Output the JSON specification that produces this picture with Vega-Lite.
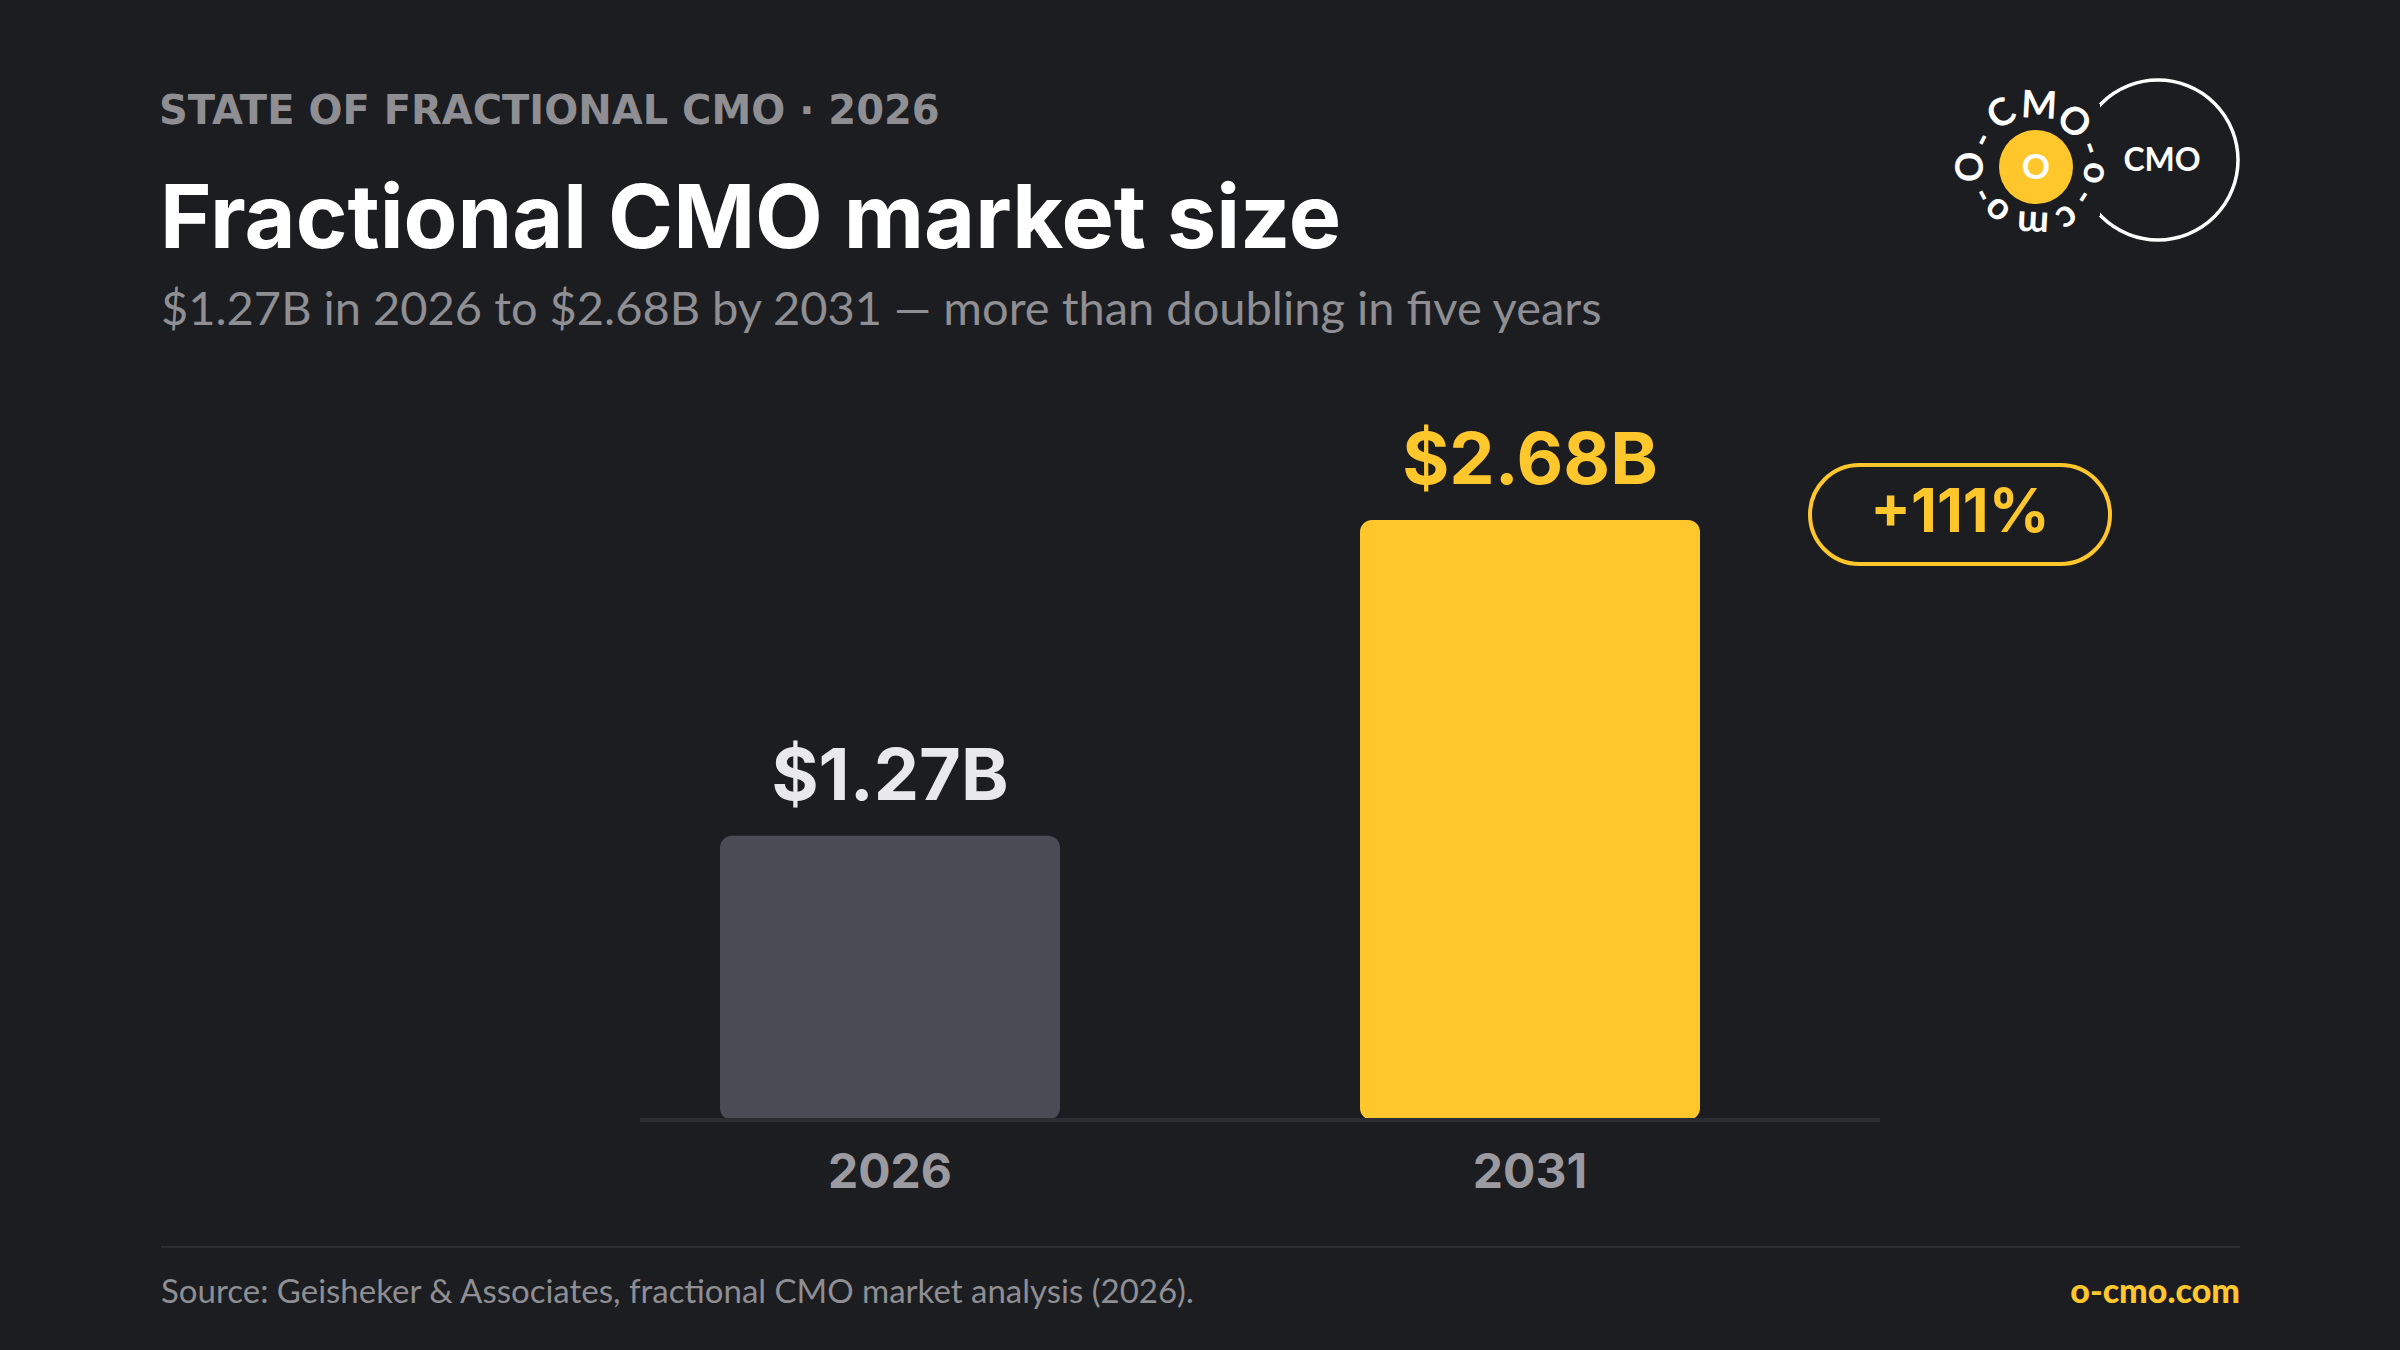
{
  "$schema": "https://vega.github.io/schema/vega-lite/v6.json",
  "width": 2400,
  "height": 1350,
  "autosize": {"type": "none"},
  "padding": 0,
  "background": "#1c1d21",
  "config": {"view": {"stroke": null}, "font": "Lato"},
  "data": {"values": [
    {"year": "2026", "value": 1.27, "label": "$1.27B"},
    {"year": "2031", "value": 2.68, "label": "$2.68B"}
  ]},
  "layer": [
    {
      "mark": {"type": "bar", "cornerRadius": 12},
      "encoding": {
        "x": {
          "field": "year", "type": "nominal", "axis": null,
          "scale": {"domain": ["2026", "2031"], "range": [640, 1880], "paddingInner": 0.46875, "paddingOuter": 0.203125, "align": 0.3077}
        },
        "y": {
          "field": "value", "type": "quantitative", "axis": null,
          "scale": {"domain": [-1.0273, 5.0028], "nice": false, "zero": false}
        },
        "y2": {"datum": 0},
        "color": {
          "field": "year", "type": "nominal", "legend": null,
          "scale": {"domain": ["2026", "2031"], "range": ["#4b4b55", "#ffc72c"]}
        }
      }
    },
    {
      "mark": {"type": "rule", "color": "#2c2d33", "strokeWidth": 4},
      "encoding": {
        "x": {"value": 640},
        "x2": {"value": 1880},
        "y": {"datum": 0, "type": "quantitative"}
      }
    },
    {
      "mark": {"type": "text", "font": "Inter", "fontSize": 72, "fontWeight": "bold", "baseline": "alphabetic", "align": "center", "dy": -36},
      "encoding": {
        "x": {"field": "year", "type": "nominal"},
        "y": {"field": "value", "type": "quantitative"},
        "text": {"field": "label"},
        "color": {"condition": {"test": "datum.year === '2031'", "value": "#ffc72c"}, "value": "#e9e9eb"}
      }
    },
    {
      "mark": {"type": "text", "font": "Inter", "fontSize": 48, "fontWeight": "bold", "baseline": "alphabetic", "align": "center", "dy": 68, "color": "#9a9aa0"},
      "encoding": {
        "x": {"field": "year", "type": "nominal"},
        "y": {"datum": 0, "type": "quantitative"},
        "text": {"field": "year"}
      }
    },
    {
      "data": {"values": [{"id": 1}]},
      "mark": {"type": "text", "text": "STATE OF FRACTIONAL CMO · 2026", "font": "DejaVu Sans", "fontSize": 40, "fontWeight": "bold", "color": "#8e8e93", "align": "left", "baseline": "alphabetic"},
      "encoding": {"x": {"value": 159}, "y": {"value": 124}}
    },
    {
      "data": {"values": [{"id": 1}]},
      "mark": {"type": "text", "text": "Fractional CMO market size", "font": "Inter", "fontSize": 88, "fontWeight": "bold", "color": "#ffffff", "align": "left", "baseline": "alphabetic"},
      "encoding": {"x": {"value": 160}, "y": {"value": 248}}
    },
    {
      "data": {"values": [{"id": 1}]},
      "mark": {"type": "text", "text": "$1.27B in 2026 to $2.68B by 2031 — more than doubling in five years", "fontSize": 47, "fontWeight": "normal", "color": "#8e8e93", "align": "left", "baseline": "alphabetic"},
      "encoding": {"x": {"value": 161}, "y": {"value": 325}}
    },
    {
      "data": {"values": [{"id": 1}]},
      "mark": {"type": "rect", "cornerRadius": 50, "fill": "transparent", "stroke": "#ffc72c", "strokeWidth": 4},
      "encoding": {"x": {"value": 1810}, "x2": {"value": 2110}, "y": {"value": 465}, "y2": {"value": 564}}
    },
    {
      "data": {"values": [{"id": 1}]},
      "mark": {"type": "text", "text": "+111%", "font": "Inter", "fontSize": 60, "fontWeight": "bold", "color": "#ffc72c", "align": "center", "baseline": "alphabetic"},
      "encoding": {"x": {"value": 1960}, "y": {"value": 532}}
    },
    {
      "data": {"values": [{"id": 1}]},
      "mark": {"type": "rule", "color": "#2c2d32", "strokeWidth": 2},
      "encoding": {"x": {"value": 161}, "x2": {"value": 2240}, "y": {"value": 1247}}
    },
    {
      "data": {"values": [{"id": 1}]},
      "mark": {"type": "text", "text": "Source: Geisheker & Associates, fractional CMO market analysis (2026).", "fontSize": 33, "color": "#8e8e93", "align": "left", "baseline": "alphabetic"},
      "encoding": {"x": {"value": 161}, "y": {"value": 1303}}
    },
    {
      "data": {"values": [{"id": 1}]},
      "mark": {"type": "text", "text": "o-cmo.com", "fontSize": 34, "fontWeight": 900, "color": "#ffc72c", "align": "right", "baseline": "alphabetic"},
      "encoding": {"x": {"value": 2240}, "y": {"value": 1303}}
    },
    {
      "data": {"values": [{"id": 1}]},
      "mark": {"type": "point", "shape": "circle", "filled": false, "size": 25600, "stroke": "#ffffff", "strokeWidth": 3.5, "opacity": 1},
      "encoding": {"x": {"value": 2158}, "y": {"value": 160}}
    },
    {
      "data": {"values": [{"id": 1}]},
      "mark": {"type": "rect", "color": "#1c1d21", "opacity": 1},
      "encoding": {"x": {"value": 2074}, "x2": {"value": 2100}, "y": {"value": 104}, "y2": {"value": 216}}
    },
    {
      "data": {"values": [{"id": 1}]},
      "mark": {"type": "text", "text": "CMO", "fontSize": 32, "fontWeight": "bold", "color": "#ffffff", "align": "center", "baseline": "middle"},
      "encoding": {"x": {"value": 2162}, "y": {"value": 161}}
    },
    {
      "data": {"values": [{"id": 1}]},
      "mark": {"type": "point", "shape": "circle", "filled": true, "size": 5476, "color": "#ffc72c", "opacity": 1},
      "encoding": {"x": {"value": 2036}, "y": {"value": 167}}
    },
    {
      "data": {"values": [{"id": 1}]},
      "mark": {"type": "text", "text": "O", "fontSize": 35, "fontWeight": "bold", "color": "#ffffff", "align": "center", "baseline": "middle"},
      "encoding": {"x": {"value": 2036}, "y": {"value": 168}}
    },
    {"data": {"values": [{"id": 1}]}, "mark": {"type": "text", "text": "C", "angle": 327, "fontSize": 38, "fontWeight": "bold", "color": "#ffffff", "align": "center", "baseline": "middle"}, "encoding": {"x": {"value": 2002}, "y": {"value": 115}}},
    {"data": {"values": [{"id": 1}]}, "mark": {"type": "text", "text": "M", "angle": 3, "fontSize": 38, "fontWeight": "bold", "color": "#ffffff", "align": "center", "baseline": "middle"}, "encoding": {"x": {"value": 2039}, "y": {"value": 107}}},
    {"data": {"values": [{"id": 1}]}, "mark": {"type": "text", "text": "O", "angle": 40, "fontSize": 38, "fontWeight": "bold", "color": "#ffffff", "align": "center", "baseline": "middle"}, "encoding": {"x": {"value": 2073}, "y": {"value": 123}}},
    {"data": {"values": [{"id": 1}]}, "mark": {"type": "text", "text": "-", "angle": 71, "fontSize": 34, "fontWeight": "bold", "color": "#ffffff", "align": "center", "baseline": "middle"}, "encoding": {"x": {"value": 2090}, "y": {"value": 148}}},
    {"data": {"values": [{"id": 1}]}, "mark": {"type": "text", "text": "o", "angle": 96, "fontSize": 38, "fontWeight": "bold", "color": "#ffffff", "align": "center", "baseline": "middle"}, "encoding": {"x": {"value": 2095}, "y": {"value": 173}}},
    {"data": {"values": [{"id": 1}]}, "mark": {"type": "text", "text": "-", "angle": 122, "fontSize": 34, "fontWeight": "bold", "color": "#ffffff", "align": "center", "baseline": "middle"}, "encoding": {"x": {"value": 2083}, "y": {"value": 197}}},
    {"data": {"values": [{"id": 1}]}, "mark": {"type": "text", "text": "c", "angle": 148, "fontSize": 38, "fontWeight": "bold", "color": "#ffffff", "align": "center", "baseline": "middle"}, "encoding": {"x": {"value": 2067}, "y": {"value": 217}}},
    {"data": {"values": [{"id": 1}]}, "mark": {"type": "text", "text": "m", "angle": 183, "fontSize": 38, "fontWeight": "bold", "color": "#ffffff", "align": "center", "baseline": "middle"}, "encoding": {"x": {"value": 2033}, "y": {"value": 223}}},
    {"data": {"values": [{"id": 1}]}, "mark": {"type": "text", "text": "o", "angle": 222, "fontSize": 38, "fontWeight": "bold", "color": "#ffffff", "align": "center", "baseline": "middle"}, "encoding": {"x": {"value": 1997}, "y": {"value": 210}}},
    {"data": {"values": [{"id": 1}]}, "mark": {"type": "text", "text": "-", "angle": 242, "fontSize": 34, "fontWeight": "bold", "color": "#ffffff", "align": "center", "baseline": "middle"}, "encoding": {"x": {"value": 1983}, "y": {"value": 195}}},
    {"data": {"values": [{"id": 1}]}, "mark": {"type": "text", "text": "O", "angle": 270, "fontSize": 38, "fontWeight": "bold", "color": "#ffffff", "align": "center", "baseline": "middle"}, "encoding": {"x": {"value": 1972}, "y": {"value": 167}}},
    {"data": {"values": [{"id": 1}]}, "mark": {"type": "text", "text": "-", "angle": 297, "fontSize": 34, "fontWeight": "bold", "color": "#ffffff", "align": "center", "baseline": "middle"}, "encoding": {"x": {"value": 1983}, "y": {"value": 140}}}
  ]
}
